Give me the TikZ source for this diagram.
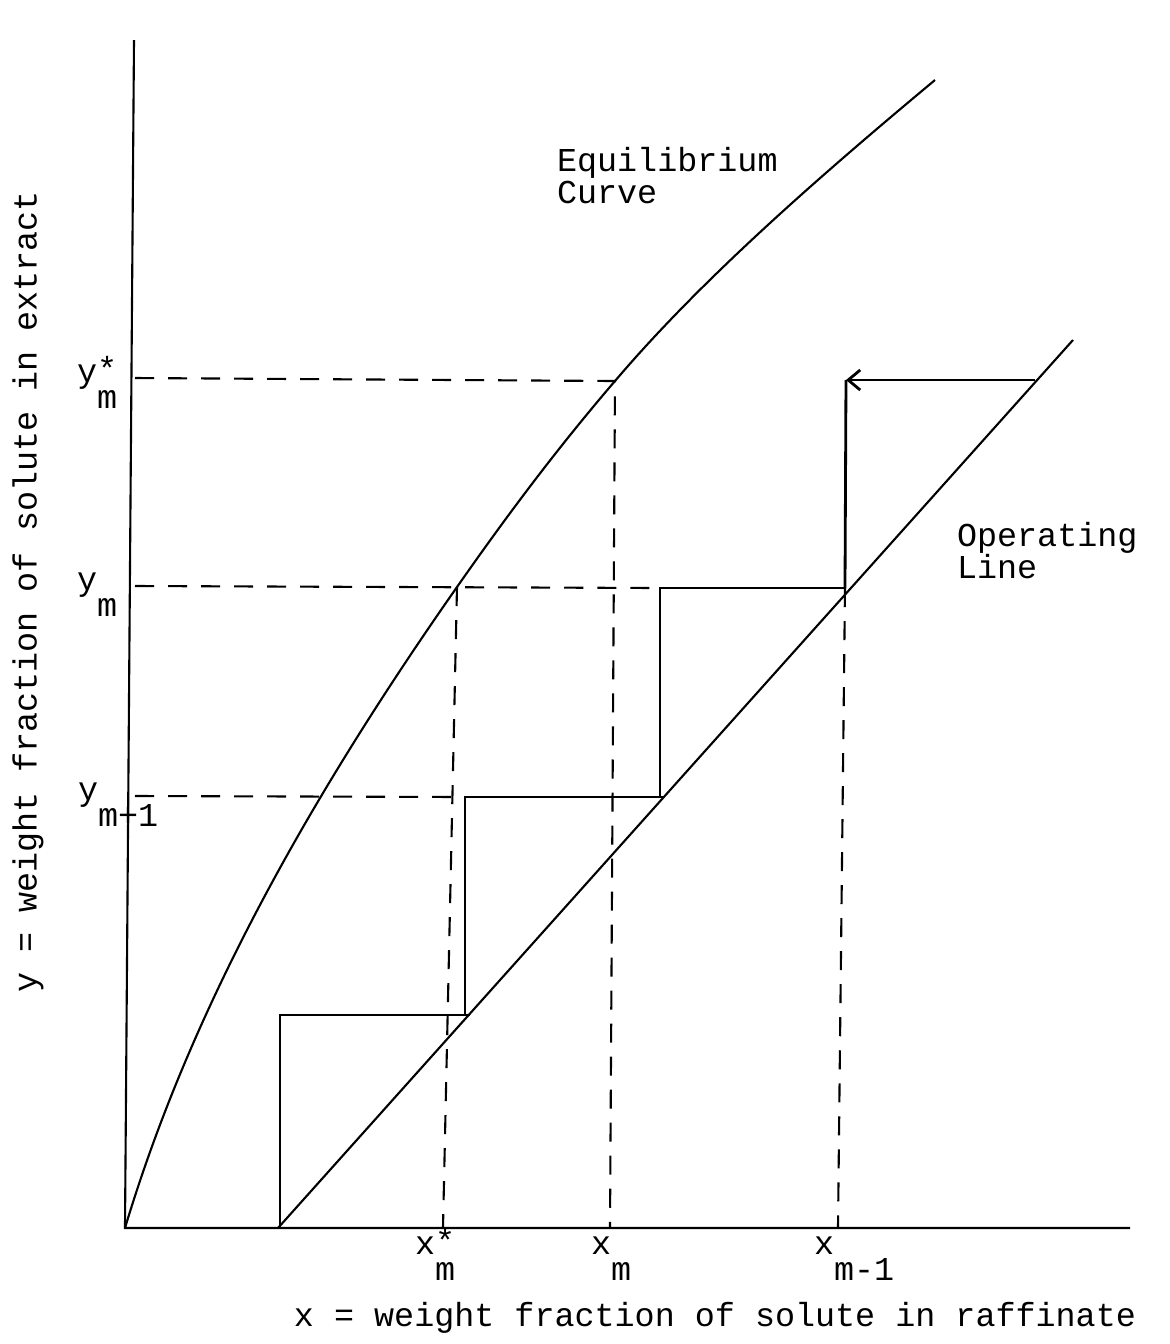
\documentclass[tikz,border=0pt]{standalone}
\usepackage{fontspec}
\setmainfont{Liberation Mono}
\usetikzlibrary{arrows.meta}
\tikzstyle{guide}=[dash pattern=on 0.19cm off 0.14cm,line width=0.6pt]
\tikzstyle{stage}=[line width=0.8pt]
\tikzstyle{lbl}=[inner sep=0pt,font=\fontsize{9.5}{9}\selectfont]
\newcommand{\sublbl}[3]{#1\raisebox{-0.8em}{\shortstack[l]{#2\\#3}}}

\begin{document}
\begin{tikzpicture}[x=0.01cm,y=-0.01cm,line width=0.6pt]
      \useasboundingbox (0,0) rectangle (1170,1344);
      % axes
      \coordinate (o) at (125,1228);
      \coordinate (ytop) at (134,40);
      \coordinate (xend) at (1130,1228);
      \draw (ytop) -- (o) -- (xend);
      % equilibrium curve
      \coordinate (e1) at (457,587);
      \coordinate (e2) at (615,381);
      \coordinate (etop) at (935,80);
      \draw (o) .. controls (191,1008) and (310,797) .. (e1)
        .. controls (506,517) and (555,451) .. (e2)
        .. controls (700,281) and (815,180) .. (etop);
      % operating line
      \coordinate (op0) at (278,1228);
      \coordinate (op5) at (1073,340);
      \draw (op0) -- (op5);
      \coordinate (p1) at (470,1015);
      \coordinate (p2) at (663,797);
      \coordinate (p3) at (845,588);
      \coordinate (p4) at (1035,380);
      % stages
      \coordinate (s0) at (280,1228);
      \coordinate (c1) at (280,1015);
      \coordinate (c2) at (465,1015);
      \coordinate (c3) at (465,797);
      \coordinate (c4) at (660,797);
      \coordinate (c5) at (660,588);
      \coordinate (c6) at (846,380);
      \draw[stage] (s0) -- (c1) -- (p1);
      \draw[stage] (c2) -- (c3) -- (p2);
      \draw[stage] (c4) -- (c5) -- (p3);
      \draw[stage] (p3) -- (c6);
      \draw[stage,-{Straight Barb[length=1.2mm,width=2mm]}] (p4) -- (c6);
      % dashed guides
      \coordinate (ysm) at (135,378);
      \coordinate (ym) at (135,586);
      \coordinate (ym1) at (135,796);
      \coordinate (fxs) at (443,1228);
      \coordinate (fxm) at (610,1228);
      \coordinate (fxm1) at (838,1228);
      \draw[guide] (ysm) -- (e2) -- (fxm);
      \draw[guide] (ym) -- (c5);
      \draw[guide] (ym1) -- (c3);
      \draw[guide] (e1) -- (fxs);
      \draw[guide] (p3) -- (fxm1);
      % labels
      \node[lbl,anchor=base west] (lys) at (76,382) {\sublbl{y}{*}{m}};
      \node[lbl,anchor=base west] (lym) at (76,590) {\sublbl{y}{}{m}};
      \node[lbl,anchor=base west] (lym1) at (77,800) {\sublbl{y}{}{m+1}};
      \node[lbl,anchor=base west] (lxs) at (414,1254) {\sublbl{x}{*}{m}};
      \node[lbl,anchor=base west] (lxm) at (590,1254) {\sublbl{x}{}{m}};
      \node[lbl,anchor=base west] (lxm1) at (813,1254) {\sublbl{x}{}{m-1}};
      \node[lbl,anchor=base west,align=left] (eq) at (556,203) {Equilibrium\\Curve};
      \node[lbl,anchor=base west,align=left] (opl) at (956,578) {Operating\\Line};
      \node[lbl] (xtitle) at (715,1318) {x = weight fraction of solute in raffinate};
      \node[lbl,rotate=90] (ytitle) at (28,592) {y = weight fraction of solute in extract};
    \end{tikzpicture}
\end{document}
